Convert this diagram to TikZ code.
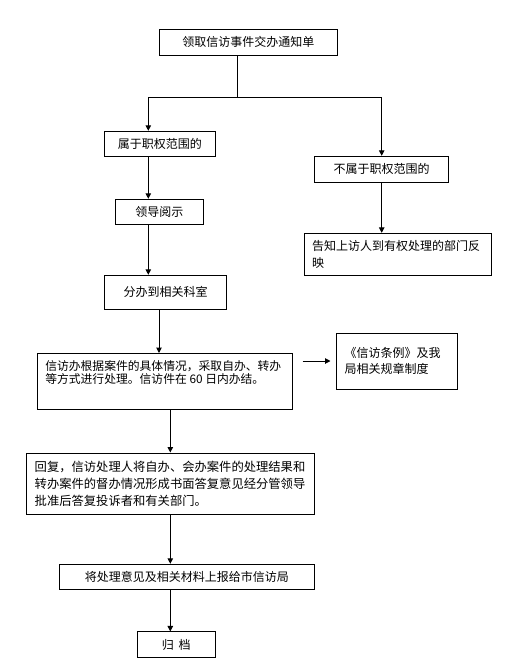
\documentclass[tikz,border=0pt]{standalone}
\usepackage{fontspec}
\newfontfamily\cjk{Noto Sans CJK SC}
\usetikzlibrary{arrows.meta}
\tikzset{
  box/.style={draw, line width=1pt, rectangle, inner sep=0pt, font=\cjk\fontsize{12}{16.7}\selectfont},
  multibox/.style={box, align=left, inner xsep=8pt},
  conn/.style={line width=1pt, -{Triangle[width=5.5pt,length=5.5pt]}}
}
\begin{document}
\begin{tikzpicture}[x=1pt,y=-1pt]
\fill[white] (0,0) rectangle (505,659);
\useasboundingbox (0,0) rectangle (505,659);

\node[box, minimum width=178, minimum height=26] (n1) at (248.3,42.3) {领取信访事件交办通知单};
\node[box, minimum width=111, minimum height=25] (n2) at (159.8,143.8) {属于职权范围的};
\node[box, minimum width=134.4, minimum height=26] (n3) at (381.5,169.3) {不属于职权范围的};
\node[box, minimum width=88, minimum height=25.4] (n4) at (159.3,212) {领导阅示};
\node[box, minimum width=122.4, minimum height=34] (n5) at (165.5,292.3) {分办到相关科室};
\node[multibox, text width=171, minimum height=41.7] (n6) at (397.5,254.2) {告知上访人到有权处理的部门反\\映};
\node[box, minimum width=255.4, minimum height=56] (n7) at (165,381.5)
  {\fontsize{11.8}{12.5}\selectfont\parbox[c][56pt][t]{239.4pt}{\rule{0pt}{17pt}信访办根据案件的具体情况，采取自办、转办\\等方式进行处理。信访件在 60 日内办结。}};
\node[multibox, text width=105, minimum height=56] (n8) at (397.2,361) {《信访条例》及我\\局相关规章制度};
\node[multibox, text width=271.6, minimum height=61, font=\cjk\fontsize{12.3}{17}\selectfont] (n9) at (170.5,483.5) {回复，信访处理人将自办、会办案件的处理结果和\\转办案件的督办情况形成书面答复意见经分管领导\\批准后答复投诉者和有关部门。};
\node[box, minimum width=255, minimum height=25] (n10) at (186.8,576.8) {将处理意见及相关材料上报给市信访局};
\node[box, minimum width=78, minimum height=25.7] (n11) at (176.3,644.8) {归\hspace{0.4em}档};

\coordinate (bm) at (237.3,97.3);
\coordinate (bl) at (148.3,97.3);
\coordinate (br) at (381.7,97.3);
\coordinate (x1) at (159,0);
\coordinate (x2) at (170.3,0);

\draw[line width=1pt] (bm |- n1.south) -- (bm);
\draw[conn] (bm) -- (bl) -- (bl |- n2.north);
\draw[conn] (bm) -- (br) -- (br |- n3.north);
\draw[conn] (bl |- n2.south) -- (bl |- n4.north);
\draw[conn] (bl |- n4.south) -- (bl |- n5.north);
\draw[conn] (br |- n3.south) -- (br |- n6.north);
\draw[conn] (n5.south -| x1) -- (n7.north -| x1);
\draw[conn, shorten <=9.3pt, shorten >=5.7pt] (n7.east |- n8.west) -- (n8.west);
\draw[conn] (n7.south -| x2) -- (n9.north -| x2);
\draw[conn] (n9.south -| x2) -- (n10.north -| x2);
\draw[conn] (n10.south -| x2) -- (n11.north -| x2);
\end{tikzpicture}
\end{document}
